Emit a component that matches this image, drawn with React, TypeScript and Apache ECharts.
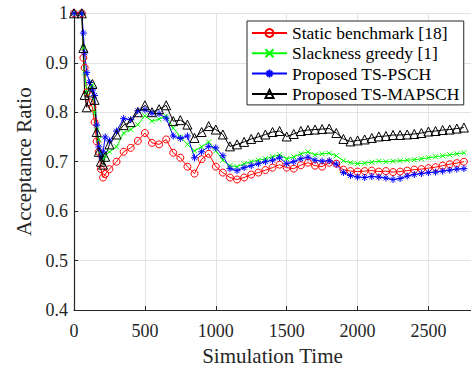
import React, { useEffect, useRef } from "react";
import * as echarts from "echarts";

// Simulation time samples
const T = [
  0, 55, 66, 75, 90, 110, 130, 145, 160, 175, 190, 205, 220,
  250, 300, 350, 400, 450, 500, 550, 600, 650, 700, 750, 800, 850, 900, 950, 1000,
  1050, 1100, 1150, 1200, 1250, 1300, 1350, 1400, 1450, 1500, 1550, 1600, 1650, 1700,
  1750, 1800, 1850, 1900, 1950, 2000, 2050, 2100, 2150, 2200, 2250, 2300, 2350, 2400,
  2450, 2500, 2550, 2600, 2650, 2700, 2750,
];

const staticBenchmark = [
  1, 1, 0.91, 0.89, 0.84, 0.82, 0.81, 0.78, 0.741, 0.72, 0.685, 0.668, 0.675,
  0.685, 0.7, 0.72, 0.728, 0.742, 0.758, 0.738, 0.735, 0.745, 0.718, 0.708, 0.69, 0.676, 0.705, 0.716, 0.69,
  0.678, 0.668, 0.664, 0.668, 0.674, 0.678, 0.683, 0.688, 0.694, 0.688, 0.686, 0.693, 0.698, 0.692,
  0.69, 0.698, 0.696, 0.684, 0.681, 0.68, 0.681, 0.682, 0.68, 0.681, 0.679, 0.68, 0.682, 0.684,
  0.685, 0.687, 0.689, 0.692, 0.695, 0.697, 0.7,
];

const slacknessGreedy = [
  1, 1, 0.93, 0.88, 0.84, 0.845, 0.855, 0.8, 0.77, 0.745, 0.715, 0.704, 0.712,
  0.72, 0.73, 0.758, 0.765, 0.775, 0.793, 0.782, 0.786, 0.792, 0.768, 0.75, 0.735, 0.722, 0.73, 0.74, 0.722,
  0.703, 0.692, 0.69, 0.696, 0.7, 0.703, 0.706, 0.71, 0.714, 0.706, 0.71, 0.716, 0.72, 0.714,
  0.716, 0.717, 0.712, 0.702, 0.698, 0.696, 0.697, 0.699, 0.701, 0.7, 0.701, 0.702, 0.703, 0.704,
  0.706, 0.708, 0.71, 0.712, 0.714, 0.716, 0.718,
];

const proposedPsch = [
  1, 1, 0.96, 0.92, 0.88, 0.86, 0.845, 0.834, 0.774, 0.73, 0.71, 0.72, 0.75,
  0.742, 0.762, 0.787, 0.785, 0.803, 0.805, 0.798, 0.797, 0.788, 0.752, 0.747, 0.752, 0.708, 0.72, 0.731, 0.728,
  0.712, 0.686, 0.682, 0.688, 0.692, 0.696, 0.7, 0.703, 0.708, 0.696, 0.7, 0.706, 0.709, 0.703,
  0.701, 0.702, 0.695, 0.678, 0.672, 0.669, 0.668, 0.67, 0.669, 0.667, 0.664, 0.666, 0.671, 0.674,
  0.676, 0.678, 0.679, 0.681, 0.683, 0.685, 0.686,
];

const proposedMapsch = [
  1, 1, 0.93, 0.835, 0.81, 0.84, 0.857, 0.825, 0.76, 0.72, 0.7, 0.694, 0.71,
  0.735, 0.755, 0.774, 0.78, 0.8, 0.814, 0.8, 0.806, 0.814, 0.782, 0.784, 0.775, 0.748, 0.76, 0.772, 0.765,
  0.755, 0.731, 0.735, 0.74, 0.746, 0.75, 0.755, 0.76, 0.762, 0.751, 0.756, 0.762, 0.764, 0.765,
  0.766, 0.767, 0.758, 0.746, 0.741, 0.743, 0.745, 0.748, 0.751, 0.752, 0.754, 0.754, 0.755, 0.756,
  0.758, 0.761, 0.762, 0.764, 0.765, 0.767, 0.769,
];

const seriesNames = [
  "Static benchmark [18]",
  "Slackness greedy [1]",
  "Proposed TS-PSCH",
  "Proposed TS-MAPSCH",
];

const X_SYM = "path://M0,0L10,10M10,0L0,10";
const STAR_SYM = "path://M5,0L5,10M0,5L10,5M1.6,1.6L8.4,8.4M8.4,1.6L1.6,8.4";

const FONT = "'Liberation Serif', Tinos, Times, serif";

export default function App() {
  const ref = useRef<HTMLDivElement>(null);

  useEffect(() => {
    if (!ref.current) return;
    const chart = echarts.init(ref.current, undefined, { renderer: "svg" });

    const mk = (
      name: string,
      values: number[],
      color: string,
      symbol: string,
      size: number
    ) => ({
      name,
      type: "line",
      data: T.map((t, i) => [t, values[i]]),
      symbol,
      symbolSize: size,
      showAllSymbol: true,
      clip: false,
      lineStyle: { color, width: 1 },
      itemStyle: { color: "transparent", borderColor: color, borderWidth: 1 },
      emphasis: { disabled: true },
    });

    chart.setOption({
      animation: false,
      textStyle: { fontFamily: FONT },
      grid: { left: 74, right: -0.6, top: 13.3, bottom: 56.5, containLabel: false },
      legend: {
        orient: "vertical",
        left: 247,
        top: 21,
        padding: [3, 4, 2, 4],
        backgroundColor: "#ffffff",
        borderColor: "#262626",
        borderWidth: 1,
        borderRadius: 0,
        itemWidth: 35,
        itemHeight: 10,
        itemGap: 2.3,
        textStyle: { fontFamily: FONT, fontSize: 17.5, color: "#000", lineHeight: 18 },
        data: seriesNames,
      },
      xAxis: {
        type: "value",
        min: 0,
        max: 2800,
        interval: 500,
        name: "Simulation Time",
        nameLocation: "middle",
        nameGap: 32,
        nameTextStyle: { fontFamily: FONT, fontSize: 21, color: "#262626" },
        axisLine: { show: true, lineStyle: { color: "#262626", width: 1.2 } },
        axisTick: { show: true, inside: true, length: 4, lineStyle: { color: "#262626" } },
        axisLabel: {
          fontFamily: FONT,
          fontSize: 18,
          color: "#262626",
          margin: 12,
          showMaxLabel: false,
          formatter: (v: number) => String(v),
        },
        splitLine: { show: true, lineStyle: { color: "#e3e3e3", width: 1 } },
      },
      yAxis: {
        type: "value",
        min: 0.4,
        max: 1,
        interval: 0.1,
        name: "Acceptance Ratio",
        nameLocation: "middle",
        nameGap: 26,
        nameTextStyle: { fontFamily: FONT, fontSize: 21, color: "#262626" },
        axisLine: { show: true, lineStyle: { color: "#262626", width: 1.2 } },
        axisTick: { show: true, inside: true, length: 4, lineStyle: { color: "#262626" } },
        axisLabel: {
          fontFamily: FONT,
          fontSize: 18,
          color: "#262626",
          margin: 6,
          formatter: (v: number) => String(Math.round(v * 10) / 10),
        },
        splitLine: { show: true, lineStyle: { color: "#e3e3e3", width: 1 } },
      },
      series: [
        mk(seriesNames[0], staticBenchmark, "#ff0000", "circle", 7),
        mk(seriesNames[1], slacknessGreedy, "#00ff00", X_SYM, 5),
        mk(seriesNames[2], proposedPsch, "#0000ff", STAR_SYM, 7),
        mk(seriesNames[3], proposedMapsch, "#000000", "triangle", 9),
      ],
    });

    return () => chart.dispose();
  }, []);

  return (
    <div
      ref={ref}
      style={{ position: "absolute", left: 0, top: 0, width: 471, height: 371, background: "#fff" }}
    />
  );
}
